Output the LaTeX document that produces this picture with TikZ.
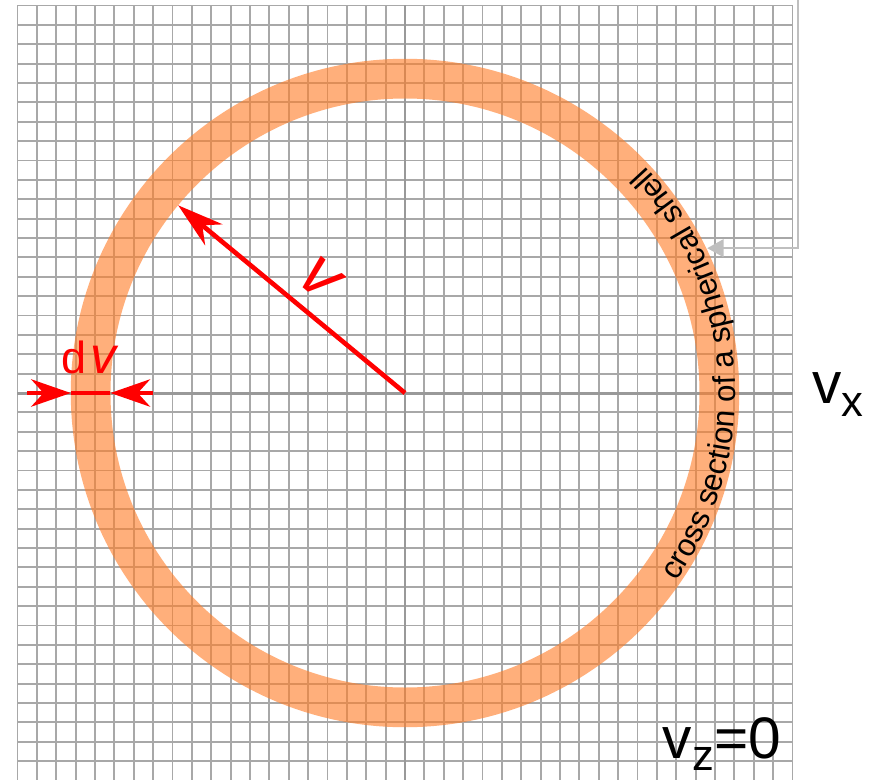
\documentclass[tikz,border=0pt]{standalone}
\usepackage{fontspec}
\setmainfont{Liberation Sans}
\usepackage{xcolor}
\usepackage{tikz}
\usetikzlibrary{arrows.meta, decorations.text}

\definecolor{shellorange}{HTML}{FF7F2A}

\begin{document}
\begin{tikzpicture}[scale=0.5,
  gridline/.style={gray!68, line width=1.3pt},
  axisline/.style={gray!80, line width=2.2pt},
  shellring/.style={shellorange, opacity=0.62, line width=1.025cm},
  redarrow/.style={red, line width=3.4pt, -{Stealth[length=34pt, width=20pt, inset=11pt]}},
  dvarrow/.style={red, line width=3.4pt, -{Stealth[length=29pt, width=20pt, inset=9pt]}},
  callout/.style={gray!50, line width=1.5pt, -{Triangle[length=12pt, width=13pt]}},
  axislabel/.style={anchor=base west, inner sep=0pt, font=\fontsize{43}{43}\selectfont}]
\path[fill=white, use as bounding box] (-20.903,-19.923) rectangle (24.413,20.284);
\draw[gridline, step=1] (-20,-20) grid (20,20);
\draw[axisline] (-20,0) -- (20,0);
\draw[axisline] (0,-20) -- (0,20);
\coordinate (O) at (0,0);
% the shell
\draw[shellring] (O) circle (16.225);
\path[decorate, decoration={text along path, text align=center,
  text={|\fontsize{23}{23}\selectfont|cross section of a spherical shell}}]
  (-45.75:17.05) arc[start angle=-45.75, end angle=54.25, radius=17.05];
% radius v
\coordinate (rtip) at (140.4:15.2);
\draw[redarrow] (O) -- node[sloped, above=10pt, pos=0.47, inner sep=0pt,
  font=\fontsize{50}{50}\selectfont\itshape] (vlabel) {v} (rtip);
% width dv
\coordinate (dvouter) at (-17.25,0);
\coordinate (dvinner) at (-15.2,0);
\coordinate (dvleft) at (-19.5,0);
\coordinate (dvright) at (-13.0,0);
\draw[red, line width=3.4pt] (dvouter) -- (dvinner);
\draw[dvarrow] (dvleft) -- (dvouter);
\draw[dvarrow] (dvright) -- (dvinner);
\node[red, anchor=base, inner sep=0pt] (dvlabel) at (-16.3,1.03)
  {\fontsize{33}{33}\selectfont d\hspace{3pt}{\fontsize{38}{38}\selectfont\itshape v}};
% axis labels
\node[axislabel] (vx) at (21.0,-0.52) {v\raisebox{-10pt}{\fontsize{32}{32}\selectfont x}};
\node[axislabel] (vz) at (13.3,-18.85) {v\raisebox{-9pt}{\fontsize{32}{32}\selectfont z}=0};
% pointer to the shell
\coordinate (calloutsrc) at (20.28,20.4);
\coordinate (shellpt) at (25.6:17.3);
\draw[callout] (calloutsrc) |- (shellpt);
\end{tikzpicture}
\end{document}
